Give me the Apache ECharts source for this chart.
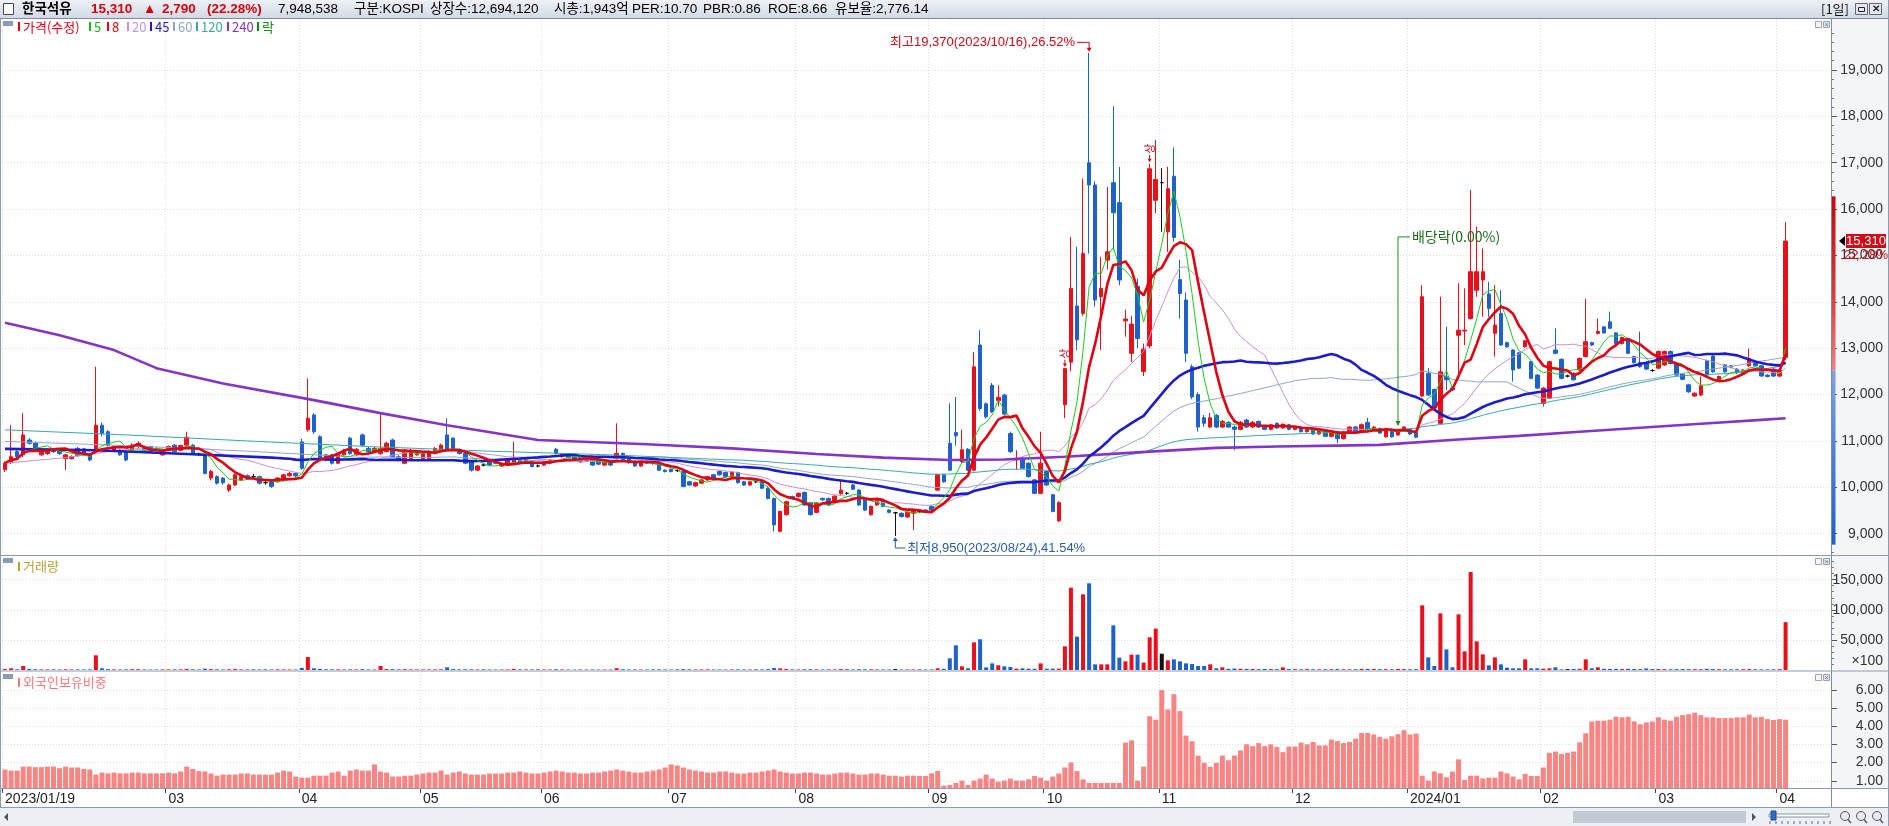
<!DOCTYPE html>
<html>
<head>
<meta charset="utf-8">
<script src="https://cdn.jsdelivr.net/npm/echarts@6/dist/echarts.min.js"></script>
<style>
html,body{margin:0;padding:0;background:#fff;overflow:hidden}
#chart{width:1889px;height:826px}
</style>
</head>
<body>
<div id="chart"></div>
<script>
// ================= DATA =================
const tradingDays = [
  ['2023/01',[19,20,25,26,27,30,31]],
  ['2023/02',[1,2,3,6,7,8,9,10,13,14,15,16,17,20,21,22,23,24,27,28]],
  ['2023/03',[2,3,6,7,8,9,10,13,14,15,16,17,20,21,22,23,24,27,28,29,30,31]],
  ['2023/04',[3,4,5,6,7,10,11,12,13,14,17,18,19,20,21,24,25,26,27,28]],
  ['2023/05',[2,3,4,8,9,10,11,12,15,16,17,18,19,22,23,24,25,26,30,31]],
  ['2023/06',[1,2,5,7,8,9,12,13,14,15,16,19,20,21,22,23,26,27,28,29,30]],
  ['2023/07',[3,4,5,6,7,10,11,12,13,14,17,18,19,20,21,24,25,26,27,28,31]],
  ['2023/08',[1,2,3,4,7,8,9,10,11,14,16,17,18,21,22,23,24,25,28,29,30,31]],
  ['2023/09',[1,4,5,6,7,8,11,12,13,14,15,18,19,20,21,22,25,26,27]],
  ['2023/10',[4,5,6,10,11,12,13,16,17,18,19,20,23,24,25,26,27,30,31]],
  ['2023/11',[1,2,3,6,7,8,9,10,13,14,15,16,17,20,21,22,23,24,27,28,29,30]],
  ['2023/12',[1,4,5,6,7,8,11,12,13,14,15,18,19,20,21,22,26,27,28]],
  ['2024/01',[2,3,4,5,8,9,10,11,12,15,16,17,18,19,22,23,24,25,26,29,30,31]],
  ['2024/02',[1,2,5,6,7,8,13,14,15,16,19,20,21,22,23,26,27,28,29]],
  ['2024/03',[4,5,6,7,8,11,12,13,14,15,18,19,20,21,22,25,26,27,28,29]],
  ['2024/04',[1,2]]
];
const dates = [];
tradingDays.forEach(function (m) { m[1].forEach(function (d) { dates.push(m[0] + '/' + (d < 10 ? '0' + d : '' + d)); }); });

// [open, close, low, high]
const ohlc = [
[10380,10520,10330,10560],[10550,10660,10500,11340],[10770,10660,10620,10800],[10700,11130,10650,11600],[11020,10950,10920,11060],
[10950,10800,10780,10990],[10700,10800,10680,10830],[10730,10800,10700,10840],[10820,10770,10740,10850],[10800,10730,10700,10830],
[10620,10700,10370,10720],[10620,10660,10600,10690],[10840,10680,10660,10870],[10830,10700,10680,10850],[10700,10590,10560,10720],
[10770,11340,10750,12600],[11340,11160,11100,11400],[11200,10910,10880,11230],[10800,10880,10780,10900],[10800,10700,10680,10830],
[10770,10590,10560,10790],[10770,10910,10750,10950],[10880,10950,10850,10990],[10880,10800,10780,10900],[10880,10770,10750,10900],
[10840,10800,10780,10860],[10700,10800,10680,10830],[10800,10880,10780,10900],[10910,10770,10750,10930],[10800,10900,10780,10920],
[10910,11080,10900,11200],[10910,10730,10700,10930],[10730,10700,10680,10750],[10700,10300,10280,10720],[10200,10340,10150,10380],
[10230,10090,10060,10260],[10200,10100,10060,10220],[9940,10050,9900,10080],[10050,10270,10030,10300],[10160,10230,10140,10260],
[10250,10200,10170,10280],[10230,10230,10200,10290],[10230,10090,10060,10250],[10100,10100,10060,10140],[10120,10020,9990,10140],
[10120,10200,10100,10220],[10160,10270,10140,10290],[10250,10300,10230,10330],[10300,10250,10220,10320],[10980,10410,10380,11050],
[11240,11490,11200,12350],[11560,11200,11150,11600],[11090,10630,10600,11120],[10700,10590,10560,10720],[10700,10520,10490,10720],
[10520,10700,10500,10720],[10700,10800,10680,10830],[11060,10730,10700,11090],[10700,10820,10680,10850],[11130,10910,10880,11160],
[10840,10770,10750,10870],[10770,10840,10750,10870],[10730,10840,10700,11600],[10770,10950,10750,10980],[11020,10660,10640,11050],
[10660,10590,10560,10690],[10520,10800,10500,10830],[10620,10800,10600,10830],[10700,10770,10680,10800],[10590,10730,10570,10760],
[10620,10770,10600,10800],[10730,10840,10710,10870],[10800,10910,10780,10940],[11130,10800,10780,11490],[11060,10840,10820,11080],
[10820,10730,10710,10840],[10730,10520,10500,10750],[10550,10370,10340,10570],[10370,10460,10350,10480],[10480,10480,10450,10510],
[10550,10480,10460,10570],[10590,10520,10500,10610],[10460,10500,10440,10520],[10480,10590,10460,10610],[10520,10600,10500,10980],
[10590,10520,10500,10610],[10520,10590,10500,10610],[10550,10450,10430,10570],[10460,10460,10430,10490],[10480,10550,10460,10570],
[10520,10590,10500,10610],[10820,10730,10710,10850],[10660,10720,10640,10740],[10720,10650,10630,10740],[10660,10600,10580,10680],
[10650,10550,10530,10670],[10570,10620,10550,10640],[10660,10480,10460,10680],[10590,10500,10480,10610],[10480,10550,10460,10570],
[10570,10480,10460,10590],[10620,10730,10600,11380],[10730,10590,10570,10750],[10620,10530,10510,10640],[10570,10460,10440,10590],
[10460,10540,10440,10560],[10530,10520,10500,10550],[10520,10520,10490,10550],[10520,10370,10350,10540],[10370,10340,10320,10390],
[10390,10340,10320,10400],[10360,10360,10330,10390],[10340,10020,10000,10360],[10120,10050,10030,10140],[10030,10100,10010,10120],
[10090,10160,10070,10180],[10160,10230,10140,10250],[10270,10200,10180,10290],[10340,10270,10250,10360],[10320,10230,10210,10340],
[10230,10320,10210,10340],[10320,10100,10080,10340],[10120,10050,10030,10140],[10050,10120,10030,10140],[10120,10120,10090,10150],
[10120,9980,9960,10140],[9980,9760,9740,10000],[9760,9190,9050,9780],[9050,9480,9030,9500],[9410,9690,9390,9710],
[9800,9760,9740,9820],[9800,9870,9780,9890],[9890,9620,9600,9910],[9660,9410,9390,9680],[9460,9660,9440,9680],
[9760,9730,9710,9780],[9760,9620,9600,9780],[9690,9810,9670,9830],[9860,9940,9840,10160],[9870,9870,9840,9900],
[10050,9960,9940,10070],[9940,9620,9600,9960],[9760,9510,9490,9780],[9410,9590,9390,9610],[9620,9710,9600,9730],
[9710,9590,9570,9730],[9510,9460,9440,9530],[9450,9450,8950,9470],[9440,9370,9350,9460],[9360,9460,9340,9480],
[9440,9510,9080,9530],[9480,9480,9450,9500],[9510,9480,9460,9530],[9590,9510,9490,9610],[9940,10270,9920,10290],
[10270,10120,10100,10290],[10950,10370,10350,11810],[11180,11110,10900,11950],[10550,10810,10530,11240],[10820,10370,10350,10850],
[10370,12600,10350,12920],[13070,11700,11650,13390],[11800,11520,11480,11830],[12200,11630,11600,12250],[11870,11940,11750,12200],
[11990,11580,11550,12020],[11160,10770,10740,11200],[10590,10630,10380,10800],[10630,10410,10390,10650],[10520,10230,10210,10540],
[10160,9870,9850,10180],[9870,10520,9850,11200],[10340,10050,10030,10360],[9840,9480,9460,9860],[9280,9670,9250,9700],
[11780,12560,11490,12560],[12700,14290,12500,15400],[13910,13180,12960,15190],[13750,15040,13700,16660],[17000,16520,15040,19370],
[16520,14040,13900,16600],[14110,14290,12960,14970],[14900,15080,14700,16480],[16570,15920,15120,18220],[16140,14470,14360,16910],
[13590,13630,13250,13830],[12890,13520,12700,13700],[14330,13210,13000,14500],[12500,12980,12400,13100],[13050,16870,13000,16980],
[16190,16640,15910,17490],[16570,16570,15510,16880],[15510,16440,15080,16910],[16710,15390,15300,17330],[14480,14180,13640,14900],
[14040,12890,12700,14200],[12600,11950,11900,12650],[12000,11300,11200,12050],[11500,11380,11300,11560],[11300,11500,11280,11600],
[11550,11300,11280,11580],[11300,11420,11280,11450],[11400,11300,11280,11430],[11300,11250,10800,11330],[11250,11400,11230,11430],
[11450,11300,11280,11480],[11300,11400,11280,11430],[11420,11300,11280,11440],[11320,11250,11230,11340],[11250,11350,11230,11370],
[11380,11280,11260,11400],[11280,11360,11260,11380],[11350,11250,11230,11370],[11250,11300,11230,11320],[11300,11200,11180,11320],
[11200,11250,11180,11270],[11260,11150,11130,11280],[11150,11230,11130,11250],[11230,11100,11080,11250],[11100,11180,11080,11200],
[11200,11050,10950,11220],[11050,11200,11030,11220],[11180,11300,11160,11320],[11300,11200,11180,11320],[11200,11350,11180,11380],
[11400,11250,11230,11500],[11250,11300,11230,11320],[11270,11170,11150,11290],[11090,11240,11070,11260],[11250,11090,11070,11270],
[11130,11220,11110,11240],[11220,11300,11200,11320],[11250,11150,11130,11270],[11180,11080,11060,11200],[11970,14110,11950,14360],
[12460,11990,11970,12570],[12110,11710,11690,12130],[11380,12490,11360,14110],[12390,12320,12100,13460],[12140,12100,12080,12160],
[13280,13390,12460,14400],[13370,13390,13070,14290],[13640,14650,13620,16410],[14250,14650,14110,15620],[14470,14650,13680,15150],
[14170,13860,13680,14430],[13320,13500,12820,14360],[13750,13070,13050,14250],[13120,13030,13010,13140],[12960,12530,12280,12980],
[12900,12570,12550,12920],[13030,13160,13010,13180],[12710,12350,12330,12730],[12420,12140,12120,12440],[11810,12140,11740,12160],
[11920,12710,11900,12730],[12960,12890,12870,13430],[12760,12350,12330,12780],[12400,12400,12370,12430],[12460,12320,12300,12480],
[12530,12780,12510,12800],[12820,13140,12800,14070],[13120,13070,13050,13140],[13320,13360,13300,13640],[13460,13330,13310,13480],
[13570,13430,13410,13790],[13330,13100,13080,13350],[13100,13230,13080,13250],[13210,12890,12870,13230],[12820,12690,12670,12840],
[12690,12600,12580,13360],[12670,12550,12530,12690],[12520,12520,12490,12550],[12570,12930,12550,12950],[12640,12930,12620,12950],
[12930,12670,12650,12950],[12670,12420,12400,12690],[12440,12330,12310,12460],[12210,12060,12040,12230],[11970,12030,11950,12050],
[11990,12190,11970,12390],[12730,12420,12400,12750],[12830,12490,12470,12850],[12300,12390,12280,12410],[12640,12490,12470,12660],
[12620,12590,12570,12640],[12550,12470,12450,12570],[12440,12530,12420,12550],[12620,12780,12600,12990],[12690,12620,12600,12710],
[12620,12400,12380,12640],[12420,12390,12370,12440],[12550,12400,12380,12570],[12400,12520,12380,12540],[12800,15310,12750,15720]
];

// volume (x100 shares)
const volume = [
1500,2800,1200,6600,1800,1300,1000,900,1100,900,
1200,900,1000,900,1100,24400,2800,1500,1000,900,
1100,1300,1200,900,800,800,900,1000,1100,1000,
1800,1200,900,2200,1400,1100,900,1200,1500,1000,
900,800,900,800,900,1000,1000,900,800,3500,
21600,2800,1800,1200,1100,1000,900,1100,900,1400,
900,800,6600,1500,1400,1000,1200,1000,900,900,
900,1000,1100,4400,1500,1100,1200,1100,900,800,
900,800,800,900,1800,1000,900,900,800,900,
900,1200,900,800,800,900,800,900,800,800,
800,3000,1200,900,900,800,800,800,1000,900,
800,800,1500,1100,900,900,1000,900,900,800,
900,1100,900,800,800,1000,1400,3200,2600,1500,
1000,900,1200,1300,1100,900,1000,900,1500,900,
1000,1300,1200,1100,900,900,900,1600,900,900,
1000,800,800,900,2800,2000,19400,41000,6100,2800,
46000,51000,4400,11000,7800,6100,5000,2200,2800,2200,
2000,11000,2200,2200,2200,39300,136800,55400,125700,144000,
9400,9400,9400,74200,20500,14400,25500,25500,12200,54300,
68700,27100,16100,17700,14400,11000,10000,6600,6600,9400,
2800,4400,2000,2500,2000,1800,1600,1500,1800,1500,
1400,4400,1500,1300,1200,1400,1200,1100,1300,1200,
1500,1200,1100,1300,1800,2000,1500,1400,1300,1200,
1600,1400,1300,1500,107400,21000,6600,94100,34300,4400,
92500,31000,162800,47600,26000,7800,21000,9400,3900,2800,
2800,17700,2800,2800,2200,2800,4400,1100,1500,1800,
2000,17700,2800,4400,2000,1800,1600,1500,2000,1700,
1500,2600,1200,1600,1400,1300,1500,1600,1400,1300,
1200,2000,1600,1300,1200,1100,1200,1300,1500,1200,
1100,1000,1100,1300,79485
];

// foreign holding ratio (%)
const foreignRatio = [
1.62,1.56,1.56,1.78,1.78,1.75,1.75,1.78,1.78,1.69,
1.78,1.73,1.73,1.65,1.62,1.34,1.45,1.41,1.45,1.41,
1.41,1.45,1.45,1.41,1.41,1.41,1.41,1.45,1.41,1.51,
1.78,1.65,1.53,1.51,1.40,1.28,1.34,1.34,1.34,1.40,
1.40,1.34,1.34,1.34,1.34,1.45,1.56,1.51,1.23,1.17,
1.17,1.28,1.28,1.28,1.45,1.51,1.28,1.56,1.62,1.56,
1.56,1.90,1.51,1.45,1.23,1.23,1.28,1.28,1.34,1.40,
1.45,1.45,1.56,1.34,1.45,1.51,1.40,1.34,1.34,1.34,
1.40,1.40,1.40,1.45,1.45,1.51,1.45,1.40,1.40,1.45,
1.51,1.56,1.51,1.45,1.45,1.40,1.40,1.45,1.45,1.51,
1.56,1.62,1.56,1.51,1.45,1.45,1.51,1.56,1.62,1.73,
1.90,1.84,1.73,1.62,1.56,1.51,1.45,1.45,1.51,1.51,
1.45,1.40,1.40,1.45,1.45,1.51,1.56,1.62,1.51,1.45,
1.40,1.40,1.45,1.45,1.40,1.34,1.34,1.40,1.45,1.45,
1.40,1.34,1.34,1.40,1.40,1.34,1.28,1.28,1.23,1.28,
1.28,1.26,1.26,1.41,1.54,0.73,0.77,0.88,1.01,0.77,
1.01,1.12,1.34,1.12,0.95,1.01,1.12,1.01,1.01,1.08,
1.26,1.17,1.01,1.23,1.40,1.73,2.01,1.53,1.08,0.88,
0.88,0.88,0.88,0.88,0.88,3.10,3.23,1.01,1.78,4.56,
4.37,6.00,4.93,5.78,4.84,3.49,3.18,2.39,1.99,1.77,
1.99,2.39,2.13,2.39,2.67,3.01,2.91,3.08,2.91,3.01,
2.86,2.58,2.89,2.89,3.10,3.01,3.14,2.95,2.95,3.27,
3.19,3.08,3.14,3.32,3.64,3.64,3.55,3.42,3.32,3.45,
3.57,3.79,3.55,3.60,1.28,1.01,1.51,1.41,1.19,1.51,
2.18,1.04,1.28,1.28,1.13,1.17,1.17,1.51,1.41,1.23,
1.08,1.38,1.26,1.26,1.73,2.54,2.61,2.48,2.54,2.61,
3.12,3.62,4.27,4.31,4.31,4.37,4.53,4.50,4.53,4.27,
4.12,4.22,4.27,4.50,4.37,4.31,4.53,4.62,4.67,4.75,
4.62,4.50,4.50,4.46,4.46,4.46,4.50,4.50,4.65,4.50,
4.53,4.40,4.35,4.40,4.37
];

const ma20Head  = [[0,10520],[10,10640]];
const ma45Head  = [[0,10830],[15,10800],[30,10720]];
const ma60Head  = [[0,10990],[20,10900],[40,10780]];
const ma120Head = [[0,11240],[20,11130],[40,11000],[60,10880],[80,10780],[100,10700]];
const ma240Read = [[0,13550],[9,13280],[18,12960],[25,12570],[36,12240],[51,11880],[62,11600],[73,11340],[88,11020],[106,10930],
  [120,10840],[134,10720],[145,10640],[156,10590],[165,10600],[175,10660],[189,10770],[200,10850],[210,10880],[220,10900],
  [227,10915],[240,11030],[250,11110],[260,11200],[270,11285],[280,11370],[290,11455],[294,11490]];

// axis tick labels
const priceTicks = [9000,10000,11000,12000,13000,14000,15000,16000,17000,18000,19000];
const volumeTicks = [50000,100000,150000];
const foreignTicks = [1,2,3,4,5,6];

// header / annotation texts
const headerItems = [
  ['한국석유',22,'#000',1],['15,310',91,'#d4000f',1],['▲',143,'#d4000f',1],['2,790',162,'#d4000f',1],['(22.28%)',207,'#d4000f',1],
  ['7,948,538',278,'#000',0],['구분:KOSPI',354,'#000',0],['상장수:12,694,120',430,'#000',0],['시총:1,943억',554,'#000',0],
  ['PER:10.70',632,'#000',0],['PBR:0.86',703,'#000',0],['ROE:8.66',768,'#000',0],['유보율:2,776.14',835,'#000',0]
];
const legendItems = [
  ['가격(수정)',18,'#e00010'],['5',89,'#18b818'],['8',107,'#e00010'],['20',127,'#c890d8'],['45',150,'#1c1cc8'],
  ['60',173,'#8fa6d0'],['120',196,'#3aa8a8'],['240',227,'#8434c8'],['락',257,'#109010']
];

// ================= CHART =================
const RED = '#e8101a', BLUE = '#1e62c9';
const FN = '"Liberation Sans Narrow","Liberation Sans",sans-serif';
const FM = '"Liberation Sans","Noto Sans CJK KR",sans-serif';
const FK = '"Noto Sans CJK KR","Liberation Sans",sans-serif';

const closes = ohlc.map(function (d) { return d[1]; });
function movingAverage(period, head) {
  const out = head ? head.slice() : [];
  for (let i = 0; i < closes.length; i++) {
    if (i < period - 1) {
      if (!head) { let s = 0; for (let k = 0; k <= i; k++) s += closes[k]; out.push([i, Math.round(s / (i + 1))]); }
      continue;
    }
    let s = 0;
    for (let k = i - period + 1; k <= i; k++) s += closes[k];
    out.push([i, Math.round(s / period)]);
  }
  return out;
}

const N = dates.length;
const PAD = 7;
const cats = dates.concat(new Array(PAD).fill(''));
const monthStart = dates.map(function (d, i) { return i === 0 || d.slice(0, 7) !== dates[i - 1].slice(0, 7); });
function showTick(i) { return i < N && monthStart[i] && dates[i] !== '2023/02/01'; }
function fmtX(v, i) {
  if (!v) return '';
  if (i === 0) return v;
  if (v.slice(5, 7) === '01') return v.slice(0, 7);
  return v.slice(5, 7);
}
const gridSplit = { show: true, interval: function (i) { return showTick(i); }, lineStyle: { color: '#d9dee6', type: [1, 2], width: 1 } };
function xAxisFor(g, show) {
  return {
    type: 'category', gridIndex: g, data: cats, boundaryGap: true,
    axisLine: { show: show, lineStyle: { color: '#8995a8' } },
    axisTick: { show: show, interval: function (i) { return showTick(i); }, length: 5, lineStyle: { color: '#444' } },
    axisLabel: { show: show, interval: function (i) { return showTick(i); }, formatter: fmtX, align: 'left', margin: 4,
      fontFamily: FN, fontSize: 14, color: '#222' },
    splitLine: gridSplit
  };
}
const minorPrice = [];
for (let v = 8600; v <= 20000; v += 200) if (v % 1000 !== 0) minorPrice.push(v);
const minorVol = [];
for (let v = 10000; v <= 180000; v += 10000) if (v % 50000 !== 0) minorVol.push(v);

const volItems = volume.map(function (v, i) {
  const d = ohlc[i];
  const c = d[1] > d[0] ? RED : (d[1] < d[0] ? BLUE : '#111');
  return { value: v, itemStyle: { color: c } };
});

function maSeries(data, color, width, z) {
  return { type: 'line', xAxisIndex: 0, yAxisIndex: 0, data: data, showSymbol: false, symbol: 'none',
    lineStyle: { color: color, width: width }, z: z, silent: true, connectNulls: true };
}

const PMIN = 8562, PMAX = 20100;
const option = {
  animation: false,
  backgroundColor: '#ffffff',
  grid: [
    { left: 2, right: 58, top: 19, height: 535 },
    { left: 2, right: 58, top: 557, height: 113 },
    { left: 2, right: 58, top: 672, height: 116 }
  ],
  xAxis: [xAxisFor(0, false), xAxisFor(1, false), xAxisFor(2, true)],
  yAxis: [
    { type: 'value', gridIndex: 0, position: 'right', min: PMIN, max: PMAX,
      axisLine: { show: true, lineStyle: { color: '#7f8ba0' } },
      axisTick: { show: true, customValues: priceTicks, length: 6, lineStyle: { color: '#555' } },
      axisLabel: { customValues: priceTicks, formatter: function (v) { return v.toLocaleString('en-US'); },
        align: 'right', margin: 52, fontFamily: FN, fontSize: 14, color: '#333' },
      splitLine: { show: true, lineStyle: { color: '#d9dee6', type: [1, 2] } } },
    { type: 'value', gridIndex: 0, position: 'right', min: PMIN, max: PMAX,
      axisLine: { show: false }, axisTick: { show: true, customValues: minorPrice, length: 3, lineStyle: { color: '#777' } },
      axisLabel: { show: false }, splitLine: { show: false } },
    { type: 'value', gridIndex: 1, position: 'right', min: 0, max: 187700,
      axisLine: { show: true, lineStyle: { color: '#7f8ba0' } },
      axisTick: { show: true, customValues: volumeTicks, length: 6, lineStyle: { color: '#555' } },
      axisLabel: { customValues: [15000].concat(volumeTicks), formatter: function (v) { return v === 15000 ? '×100' : v.toLocaleString('en-US'); },
        align: 'right', margin: 52, fontFamily: FN, fontSize: 14, color: '#333' },
      splitLine: { show: true, lineStyle: { color: '#d9dee6', type: [1, 2] } } },
    { type: 'value', gridIndex: 1, position: 'right', min: 0, max: 187700,
      axisLine: { show: false }, axisTick: { show: true, customValues: minorVol, length: 3, lineStyle: { color: '#777' } },
      axisLabel: { show: false }, splitLine: { show: false } },
    { type: 'value', gridIndex: 2, position: 'right', min: 0.6, max: 7.0,
      axisLine: { show: true, lineStyle: { color: '#7f8ba0' } },
      axisTick: { show: true, customValues: foreignTicks, length: 6, lineStyle: { color: '#555' } },
      axisLabel: { customValues: foreignTicks, formatter: function (v) { return v.toFixed(2); },
        align: 'right', margin: 52, fontFamily: FN, fontSize: 14, color: '#333' },
      splitLine: { show: true, lineStyle: { color: '#d9dee6', type: [1, 2] } } }
  ],
  series: [
    { type: 'candlestick', xAxisIndex: 0, yAxisIndex: 0, barWidth: 4, z: 2,
      data: ohlc.map(function (d) { return [d[0], d[1], d[2], d[3]]; }),
      itemStyle: { color: RED, color0: BLUE, borderColor: RED, borderColor0: BLUE, borderColorDoji: '#111', borderWidth: 1 } },
    maSeries(movingAverage(20, ma20Head), '#c98fd6', 1, 3),
    maSeries(movingAverage(60, ma60Head), '#8fa6d0', 1, 3),
    maSeries(movingAverage(120, ma120Head), '#3aa8a8', 1, 3),
    maSeries(ma240Read, '#8434c8', 2.6, 4),
    maSeries(movingAverage(45, ma45Head), '#1c1cc8', 2.6, 4),
    maSeries(movingAverage(5), '#22c822', 1, 5),
    maSeries(movingAverage(8), '#e00010', 2.6, 5),
    { type: 'bar', xAxisIndex: 1, yAxisIndex: 2, data: volItems, barWidth: 4, z: 2 },
    { type: 'bar', xAxisIndex: 2, yAxisIndex: 4, data: foreignRatio, barWidth: 5, itemStyle: { color: '#f98484' }, z: 2 }
  ]
};

const chart = echarts.init(document.getElementById('chart'), null, { renderer: 'canvas', width: 1889, height: 826 });
chart.setOption(option);

// ================= DECORATION / ANNOTATIONS =================
function R(x, y, w, h, fill, stroke, z) { return { type: 'rect', silent: true, z: z == null ? 50 : z, shape: { x: x, y: y, width: w, height: h }, style: { fill: fill || 'none', stroke: stroke || null, lineWidth: 1 } }; }
function L(x1, y1, x2, y2, stroke, w, z) { return { type: 'line', silent: true, z: z == null ? 50 : z, shape: { x1: x1, y1: y1, x2: x2, y2: y2 }, style: { stroke: stroke, lineWidth: w || 1 } }; }
function T(text, x, y, fill, font, align, z, rot) { return { type: 'text', silent: true, z: z == null ? 60 : z, x: x, y: y, rotation: rot || 0,
  style: { text: text, fill: fill, font: font, align: align || 'left', verticalAlign: 'middle', textAlign: align || 'left', textVerticalAlign: 'middle' } }; }
function PG(points, fill, z) { return { type: 'polygon', silent: true, z: z == null ? 60 : z, shape: { points: points }, style: { fill: fill } }; }
function PL(points, stroke, w, z) { return { type: 'polyline', silent: true, z: z == null ? 60 : z, shape: { points: points }, style: { stroke: stroke, lineWidth: w || 1, fill: null } }; }
function P(i, v) { return chart.convertToPixel({ xAxisIndex: 0, yAxisIndex: 0 }, [i, v]); }
function PY(v) { return chart.convertToPixel({ yAxisIndex: 0 }, v); }

const g = [];
// right axis column background
g.push(R(1831, 18, 58, 771, '#f3f5f8', null, -5));
// header
g.push({ type: 'rect', silent: true, z: 50, shape: { x: 0, y: 0, width: 1889, height: 18 },
  style: { fill: { type: 'linear', x: 0, y: 0, x2: 0, y2: 1, colorStops: [{ offset: 0, color: '#eef1f6' }, { offset: 1, color: '#d3dae5' }] } } });
g.push(L(0, 18.5, 1889, 18.5, '#7d8aa0'));
g.push(R(3.5, 3.5, 10, 11, '#ffffff', '#445'));
headerItems.forEach(function (h) { g.push(T(h[0], h[1], 9.5, h[2], (h[3] ? 'bold ' : '') + '13.5px ' + FM)); });
g.push(T('[1일]', 1821, 9.5, '#111', '13px ' + FK));
g.push(R(1855.5, 3.5, 12, 11, '#e4e8ee', '#667'));
g.push(R(1858.5, 7.5, 6, 4, 'none', '#223'));
g.push(R(1869.5, 3.5, 12, 11, '#e4e8ee', '#667'));
g.push(T('✕', 1875.5, 9.5, '#223', 'bold 10px ' + FM, 'center'));

// panel borders & separators
g.push(L(1831.5, 18, 1831.5, 807, '#7f8ba0'));
g.push(L(0, 555.5, 1889, 555.5, '#8e9ab0'));
g.push(L(0, 671, 1889, 671, '#8e9ab0'));
g.push(L(0, 788.5, 1889, 788.5, '#8e9ab0'));
g.push(L(0, 807.5, 1889, 807.5, '#8e9ab0'));
g.push(L(0.5, 18, 0.5, 807, '#8e9ab0'));
g.push(L(1888.5, 0, 1888.5, 826, '#8e9ab0'));

// panel icons (top-left) and close buttons (top-right)
[[21], [558], [674]].forEach(function (a) {
  g.push(R(3, a[0], 10, 5, '#8a9bb4', null));
  g.push(R(1815.5, a[0] + 0.5, 6, 6, '#f4f6f9', '#9aa3b0'));
  g.push(R(1823.5, a[0] + 0.5, 6, 6, '#dfe3ea', '#9aa3b0'));
  g.push(T('×', 1826.5, a[0] + 3.5, '#778', '8px ' + FM, 'center'));
});

// legend of price panel
legendItems.forEach(function (it) {
  g.push(R(it[1], 22, 2, 9, it[2], null));
  g.push(T(it[0], it[1] + 5, 27, it[2], '13px ' + FK));
});
// other legends
g.push(R(18, 562, 2, 9, '#b5a33a', null));
g.push(T('거래량', 23, 566.5, '#b5a33a', '13px ' + FK));
g.push(R(18, 678, 2, 9, '#f07b7b', null));
g.push(T('외국인보유비중', 23, 682.5, '#f07b7b', '13px ' + FK));

// bottom scroll bar
g.push(R(0, 808, 1889, 18, '#eceff3', null, 40));
g.push(PG([[4, 817], [8, 813], [8, 821]], '#4a5568', 45));
g.push(R(1573, 811, 173, 12, '#c4cad3', null, 45));
g.push(PG([[1752, 813], [1756, 817], [1752, 821]], '#4a5568', 45));
g.push(R(1769, 814, 60, 3, '#ffffff', '#8a94a4', 45));
g.push(R(1771, 811, 5, 9, '#2a6fd0', '#1a4c9a', 46));
for (let k = 0; k < 11; k++) g.push(L(1770 + k * 6, 821, 1770 + k * 6, 824, '#667', 1, 45));
[1845, 1861, 1877].forEach(function (cx) {
  g.push({ type: 'circle', silent: true, z: 46, shape: { cx: cx, cy: 816, r: 4.5 }, style: { fill: '#e8ebf0', stroke: '#556' } });
  g.push(L(cx + 3, 819.5, cx + 6, 823, '#556', 1.5, 46));
});

// limit range bar on the price axis (upper / lower limit from previous close)
const prevClose = 12520, upLimit = 16276, downLimit = 8764;
const yUp = PY(upLimit), yPrev = PY(prevClose), yDown = PY(downLimit);
g.push({ type: 'rect', silent: true, z: 55, shape: { x: 1832, y: yUp, width: 3.5, height: yPrev - yUp },
  style: { fill: { type: 'linear', x: 0, y: 0, x2: 0, y2: 1, colorStops: [{ offset: 0, color: '#d00010' }, { offset: 0.55, color: '#d93a3a' }, { offset: 1, color: '#ee8080' }] } } });
g.push({ type: 'rect', silent: true, z: 55, shape: { x: 1832, y: yPrev, width: 3.5, height: yDown - yPrev },
  style: { fill: { type: 'linear', x: 0, y: 0, x2: 0, y2: 1, colorStops: [{ offset: 0, color: '#7fa3e0' }, { offset: 0.5, color: '#4b7fd6' }, { offset: 1, color: '#1f5fc8' }] } } });

// current price tag
const tagY = PY(15310);
g.push(PG([[1839, tagY], [1845, tagY - 5], [1845, tagY + 5]], '#000', 60));
g.push(R(1846, tagY - 7, 40, 14, '#d10a14', null, 60));
g.push(T('15,310', 1866, tagY + 0.5, '#ffffff', '13px ' + FN, 'center', 61));
g.push(T('22.28%', 1866, tagY + 14.5, '#d10a14', '13px ' + FN, 'center', 61));

// highest annotation
const hi = P(179, 19370);
g.push(T('최고19,370(2023/10/16),26.52%', hi[0] - 14, hi[1] - 10.5, '#cc0a14', '13px ' + FM, 'right'));
g.push(PL([[hi[0] - 12, hi[1] - 10.5], [hi[0], hi[1] - 10.5], [hi[0], hi[1] - 3]], '#cc0a14', 1));
g.push(PG([[hi[0] - 2.5, hi[1] - 5], [hi[0] + 2.5, hi[1] - 5], [hi[0], hi[1] - 1]], '#cc0a14'));
// lowest annotation
const lo = P(147, 8950);
g.push(PL([[lo[0], lo[1] + 3], [lo[0], lo[1] + 12], [lo[0] + 10, lo[1] + 12]], '#2a5ca8', 1));
g.push(PG([[lo[0] - 2.5, lo[1] + 5], [lo[0] + 2.5, lo[1] + 5], [lo[0], lo[1] + 1]], '#2a5ca8'));
g.push(T('최저8,950(2023/08/24),41.54%', lo[0] + 12, lo[1] + 12, '#2a5ca8', '13px ' + FM, 'left'));
// ex-dividend annotation
const exTop = P(230, 15400), exBot = P(230, ohlc[230][3] + 60);
g.push(PL([[exTop[0] + 12, exTop[1]], [exTop[0], exTop[1]], [exTop[0], exBot[1] - 2]], '#1f8a1f', 1));
g.push(PG([[exBot[0] - 2.5, exBot[1] - 6], [exBot[0] + 2.5, exBot[1] - 6], [exBot[0], exBot[1] - 1]], '#1f8a1f'));
g.push(T('배당락(0.00%)', exTop[0] + 14, exTop[1], '#1d6b1d', '14px ' + FK, 'left'));
// upper-limit markers
[175, 189].forEach(function (i) {
  const p = P(i, ohlc[i][3]);
  g.push(T('상', p[0], p[1] - 15, '#cc0a14', '11px ' + FK, 'center', 60, Math.PI / 2));
  g.push(L(p[0], p[1] - 9, p[0], p[1] - 3, '#cc0a14', 1));
  g.push(PG([[p[0] - 2, p[1] - 5], [p[0] + 2, p[1] - 5], [p[0], p[1] - 1.5]], '#cc0a14'));
});

chart.setOption({ graphic: g });
</script>
</body>
</html>
